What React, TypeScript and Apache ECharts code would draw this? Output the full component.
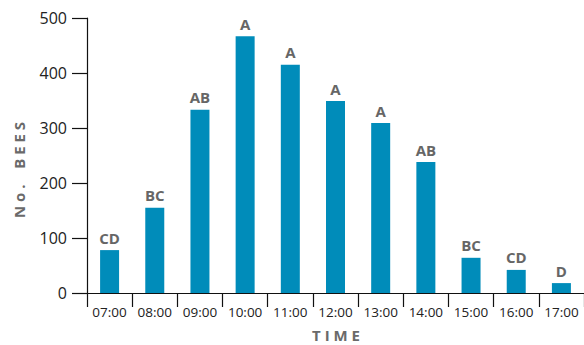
import React, { useEffect, useRef } from "react";
import * as echarts from "echarts";

const categories = ["07:00", "08:00", "09:00", "10:00", "11:00", "12:00", "13:00", "14:00", "15:00", "16:00", "17:00"];
const bees = [78, 155, 333, 467, 415, 349, 309, 238, 64, 42, 18];
const letters = ["CD", "BC", "AB", "A", "A", "A", "A", "AB", "BC", "CD", "D"];
const yTicks = { min: 0, max: 500, interval: 100 };
const yTitle = "N o .    B E E S";
const xTitle = "T I M E";

export default function App() {
  const ref = useRef<HTMLDivElement>(null);
  useEffect(() => {
    if (!ref.current) return;
    const chart = echarts.init(ref.current, null, { renderer: "svg" });
    chart.setOption({
      animation: false,
      grid: { left: 87, right: 0, top: 18, bottom: 52, containLabel: false, outerBoundsMode: "none" },
      graphic: [
        {
          type: "text",
          x: 19,
          y: 170,
          rotation: Math.PI / 2,
          style: {
            text: yTitle,
            fontFamily: "Open Sans",
            fontWeight: "bold",
            fontSize: 15,
            fill: "#6a6a6a",
            textAlign: "center",
            textVerticalAlign: "middle",
          },
        },
        {
          type: "text",
          x: 336,
          y: 335,
          style: {
            text: xTitle,
            fontFamily: "Open Sans",
            fontWeight: "bold",
            fontSize: 15,
            lineHeight: 15,
            fill: "#6a6a6a",
            textAlign: "center",
            textVerticalAlign: "middle",
          },
        },
      ],
      xAxis: {
        type: "category",
        data: categories,
        boundaryGap: true,
        axisLine: { show: true, lineStyle: { color: "#111", width: 1.2 } },
        axisTick: { show: true, length: 14, alignWithLabel: false, lineStyle: { color: "#111", width: 1.2 } },
        axisLabel: { fontFamily: "Open Sans", fontSize: 13.5, color: "#222", margin: 12 },
      },
      yAxis: {
        type: "value",
        min: yTicks.min,
        max: yTicks.max,
        interval: yTicks.interval,
        axisLine: { show: true, lineStyle: { color: "#111", width: 1.2 } },
        axisTick: { show: true, length: 15, lineStyle: { color: "#111", width: 1.2 } },
        axisLabel: { fontFamily: "Open Sans", fontSize: 16, color: "#222", margin: 20 },
        splitLine: { show: false },
      },
      series: [
        {
          type: "bar",
          data: bees,
          barWidth: 19,
          itemStyle: { color: "#008cba" },
          label: {
            show: true,
            position: "top",
            distance: 5,
            formatter: (p: any) => letters[p.dataIndex],
            fontFamily: "Open Sans",
            fontWeight: "bold",
            fontSize: 15,
            color: "#666",
          },
        },
      ],
    });
    return () => chart.dispose();
  }, []);
  return <div ref={ref} style={{ width: 584, height: 345, position: "absolute", left: 0, top: 0 }} />;
}
